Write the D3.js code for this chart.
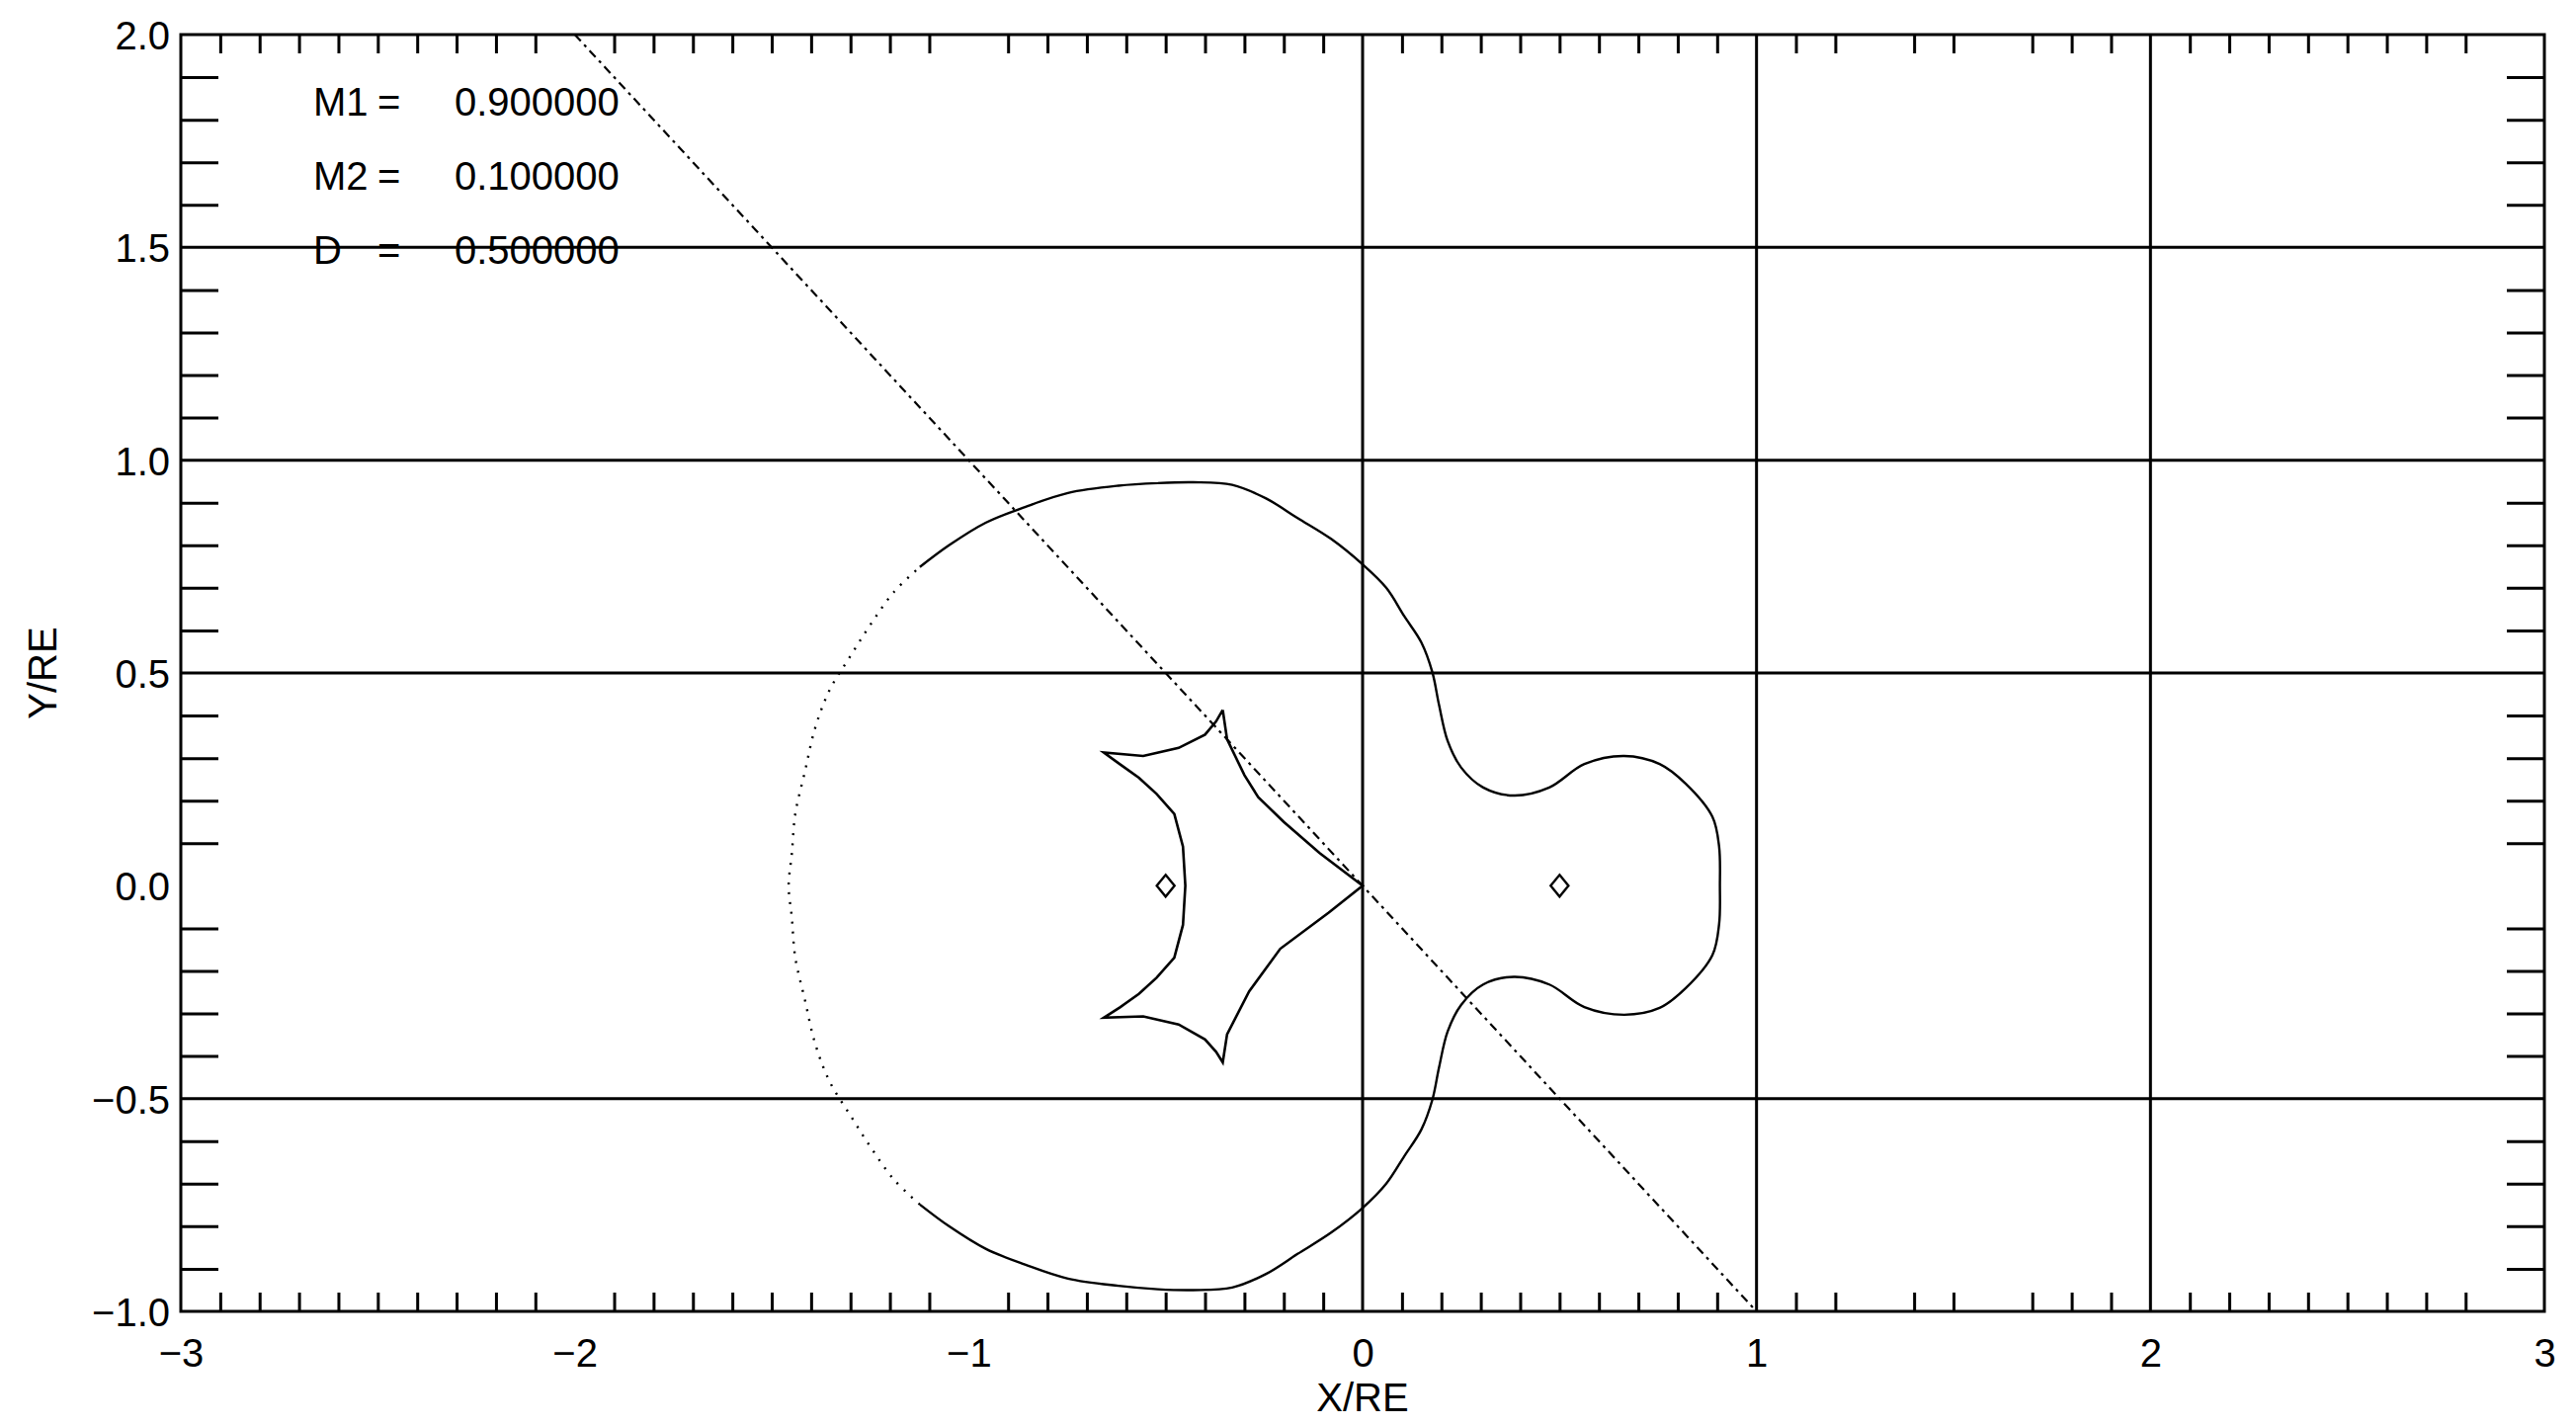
<!DOCTYPE html>
<html>
<head>
<meta charset="utf-8">
<script src="https://cdn.jsdelivr.net/npm/d3@7"></script>
<style>
  html, body { margin: 0; padding: 0; background: #fff; }
  svg { display: block; }
  text { font-family: "Liberation Sans", Arial, sans-serif; fill: #000; }
</style>
</head>
<body>
<svg id="chart" width="2607" height="1443"></svg>
<script>
// ---------------- data ----------------
const xMajorTicks = [-3, -2, -1, 0, 1, 2, 3];
const xTickLabels = ["\u22123", "\u22122", "\u22121", "0", "1", "2", "3"];
const yMajorTicks = [-1.0, -0.5, 0.0, 0.5, 1.0, 1.5, 2.0];
const yTickLabels = ["\u22121.0", "\u22120.5", "0.0", "0.5", "1.0", "1.5", "2.0"];
const xGridLines = [0, 1, 2];
const yGridLines = [-0.5, 0.5, 1.0, 1.5];
const xMinorMissing = [1.3, 1.6, 2.9];
const xTitle = "X/RE";
const yTitle = "Y/RE";

const paramNames = ["M1", "M2", "D"];
const paramValues = [0.9, 0.1, 0.5];

const lensX = [-0.5, 0.5];
const lensY = [0.0, 0.0];

// source trajectory (straight line y = -x across the frame)
const trajectoryX = [-2.0, 1.0];
const trajectoryY = [2.0, -1.0];

// critical curve (closed)
const criticalCurve = [
  [-0.52, 0.946], [-0.43, 0.948], [-0.331, 0.942], [-0.245, 0.91], [-0.165, 0.864],
  [-0.08, 0.815], [0.0, 0.755], [0.06, 0.70], [0.106, 0.633], [0.149, 0.572],
  [0.177, 0.502], [0.194, 0.425], [0.216, 0.340], [0.250, 0.278], [0.306, 0.231],
  [0.384, 0.212], [0.474, 0.231], [0.563, 0.286], [0.664, 0.305], [0.754, 0.286],
  [0.821, 0.239], [0.888, 0.162], [0.905, 0.092], [0.907, 0.0],
  [0.905, -0.09], [0.888, -0.163], [0.821, -0.24], [0.754, -0.287], [0.664, -0.303],
  [0.563, -0.285], [0.474, -0.232], [0.384, -0.214], [0.306, -0.232], [0.250, -0.28],
  [0.216, -0.342], [0.194, -0.427], [0.177, -0.503], [0.149, -0.573], [0.106, -0.635],
  [0.06, -0.70], [0.0, -0.757], [-0.08, -0.815], [-0.165, -0.865], [-0.245, -0.912],
  [-0.331, -0.944], [-0.43, -0.95], [-0.52, -0.948],
  [-0.62, -0.94], [-0.748, -0.923], [-0.857, -0.89], [-0.957, -0.853], [-1.05, -0.80],
  [-1.124, -0.749], [-1.19, -0.69], [-1.249, -0.614], [-1.30, -0.54], [-1.353, -0.46],
  [-1.39, -0.37], [-1.416, -0.267], [-1.44, -0.17], [-1.449, -0.074], [-1.457, 0.0],
  [-1.449, 0.074], [-1.44, 0.17], [-1.416, 0.267], [-1.39, 0.37], [-1.353, 0.46],
  [-1.30, 0.54], [-1.249, 0.614], [-1.19, 0.69], [-1.124, 0.749], [-1.05, 0.80],
  [-0.957, 0.853], [-0.857, 0.89], [-0.748, 0.923], [-0.62, 0.94], [-0.52, 0.946]
];

// caustic (closed, with cusps)
const caustic = [
  [-0.355, 0.413], [-0.372, 0.386], [-0.40, 0.355], [-0.467, 0.324], [-0.557, 0.305],
  [-0.657, 0.313], [-0.615, 0.285], [-0.568, 0.254], [-0.523, 0.216], [-0.478, 0.169],
  [-0.456, 0.092], [-0.450, 0.0], [-0.456, -0.092], [-0.478, -0.169], [-0.523, -0.216],
  [-0.568, -0.254], [-0.615, -0.285], [-0.657, -0.31], [-0.557, -0.307], [-0.467, -0.326],
  [-0.40, -0.361], [-0.372, -0.39], [-0.355, -0.415], [-0.344, -0.349], [-0.288, -0.248],
  [-0.209, -0.148], [-0.086, -0.063], [0.0, 0.0], [-0.109, 0.077], [-0.2, 0.15],
  [-0.265, 0.208], [-0.30, 0.26], [-0.344, 0.344], [-0.355, 0.413]
];

// ---------------- layout ----------------
const W = 2607, H = 1443;
const margin = { left: 183, right: W - 2575, top: 35, bottom: H - 1327 };
const svg = d3.select("#chart");

const x = d3.scaleLinear().domain([-3, 3]).range([margin.left, W - margin.right]);
const y = d3.scaleLinear().domain([-1, 2]).range([H - margin.bottom, margin.top]);

const xMinor = d3.range(-30, 31).map(v => v / 10)
  .filter(v => Math.abs(v - Math.round(v)) > 1e-6)
  .filter(v => !xMinorMissing.some(m => Math.abs(m - v) < 1e-6));
const yMinor = d3.range(-10, 21).map(v => v / 10)
  .filter(v => Math.abs(v * 2 - Math.round(v * 2)) > 1e-6);

const g = svg.append("g");

// grid lines
g.selectAll(".vgrid").data(xGridLines).join("line")
  .attr("x1", d => x(d)).attr("x2", d => x(d))
  .attr("y1", y(-1)).attr("y2", y(2))
  .attr("stroke", "#000").attr("stroke-width", 3);
g.selectAll(".hgrid").data(yGridLines).join("line")
  .attr("x1", x(-3)).attr("x2", x(3))
  .attr("y1", d => y(d)).attr("y2", d => y(d))
  .attr("stroke", "#000").attr("stroke-width", 3);

// minor ticks via d3 axes (inward)
function styleAxis(sel) {
  sel.select(".domain").remove();
  sel.selectAll(".tick line").attr("stroke", "#000").attr("stroke-width", 3);
}
g.append("g").attr("transform", `translate(0,${y(-1)})`)
  .call(d3.axisBottom(x).tickValues(xMinor).tickSize(-19).tickFormat(""))
  .call(styleAxis);
g.append("g").attr("transform", `translate(0,${y(2)})`)
  .call(d3.axisTop(x).tickValues(xMinor).tickSize(-19).tickFormat(""))
  .call(styleAxis);
g.append("g").attr("transform", `translate(${x(-3)},0)`)
  .call(d3.axisLeft(y).tickValues(yMinor).tickSize(-38).tickFormat(""))
  .call(styleAxis);
g.append("g").attr("transform", `translate(${x(3)},0)`)
  .call(d3.axisRight(y).tickValues(yMinor).tickSize(-38).tickFormat(""))
  .call(styleAxis);

// tick labels via d3 axes (no tick lines)
const xLab = g.append("g").attr("transform", `translate(0,${y(-1)})`)
  .call(d3.axisBottom(x).tickValues(xMajorTicks).tickSize(0).tickPadding(56)
    .tickFormat((d, i) => xTickLabels[i]));
xLab.select(".domain").remove();
xLab.selectAll("text").attr("font-size", 40).attr("font-family", "Liberation Sans, Arial, sans-serif")
  .attr("fill", "#000").attr("dy", 0);

const yLab = g.append("g").attr("transform", `translate(${x(-3)},0)`)
  .call(d3.axisLeft(y).tickValues(yMajorTicks).tickSize(0).tickPadding(11)
    .tickFormat((d, i) => yTickLabels[i]));
yLab.select(".domain").remove();
yLab.selectAll("text").attr("font-size", 40).attr("font-family", "Liberation Sans, Arial, sans-serif")
  .attr("fill", "#000").attr("dy", "0.36em");

// axis titles
svg.append("text").attr("x", x(0)).attr("y", 1428)
  .attr("text-anchor", "middle").attr("font-size", 40).text(xTitle);
svg.append("text").attr("transform", `translate(57,${(y(-1) + y(2)) / 2}) rotate(-90)`)
  .attr("text-anchor", "middle").attr("font-size", 40).text(yTitle);

// frame
g.append("rect")
  .attr("x", x(-3)).attr("y", y(2))
  .attr("width", x(3) - x(-3)).attr("height", y(-1) - y(2))
  .attr("fill", "none").attr("stroke", "#000").attr("stroke-width", 3);

// clip for data
svg.append("defs").append("clipPath").attr("id", "plotclip")
  .append("rect").attr("x", x(-3)).attr("y", y(2))
  .attr("width", x(3) - x(-3)).attr("height", y(-1) - y(2));
const data = svg.append("g").attr("clip-path", "url(#plotclip)");

// trajectory
data.append("path")
  .datum(trajectoryX.map((d, i) => [d, trajectoryY[i]]))
  .attr("d", d3.line().x(d => x(d[0])).y(d => y(d[1])))
  .attr("fill", "none").attr("stroke", "#000").attr("stroke-width", 2.2)
  .attr("stroke-dasharray", "9,5,3,5");

// critical curve: solid part and sparse dotted left part
data.append("path")
  .datum(criticalCurve)
  .attr("d", d3.line().x(d => x(d[0])).y(d => y(d[1])).curve(d3.curveCatmullRom)
    .defined(d => d[0] >= -1.13))
  .attr("fill", "none").attr("stroke", "#000").attr("stroke-width", 2.4);
data.append("path")
  .datum(criticalCurve)
  .attr("d", d3.line().x(d => x(d[0])).y(d => y(d[1])).curve(d3.curveCatmullRom)
    .defined(d => d[0] <= -1.12))
  .attr("fill", "none").attr("stroke", "#000").attr("stroke-width", 2.4)
  .attr("stroke-dasharray", "2,8");

// caustic
data.append("path")
  .datum(caustic)
  .attr("d", d3.line().x(d => x(d[0])).y(d => y(d[1])))
  .attr("fill", "none").attr("stroke", "#000").attr("stroke-width", 2.6)
  .attr("stroke-linejoin", "miter");

// lens positions (diamonds)
data.selectAll(".lens").data(lensX.map((d, i) => [d, lensY[i]])).join("path")
  .attr("d", d => {
    const cx = x(d[0]), cy = y(d[1]);
    return `M${cx},${cy - 11}L${cx + 9},${cy}L${cx},${cy + 11}L${cx - 9},${cy}Z`;
  })
  .attr("fill", "none").attr("stroke", "#000").attr("stroke-width", 2.4);

// parameter legend
const leg = svg.append("g");
paramNames.forEach((name, i) => {
  const by = 117 + i * 75;
  leg.append("text").attr("x", 317).attr("y", by).attr("font-size", 40).text(name);
  leg.append("text").attr("x", 382).attr("y", by).attr("font-size", 40).text("=");
  leg.append("text").attr("x", 460).attr("y", by).attr("font-size", 40)
    .text(paramValues[i].toFixed(6));
});
</script>
</body>
</html>
